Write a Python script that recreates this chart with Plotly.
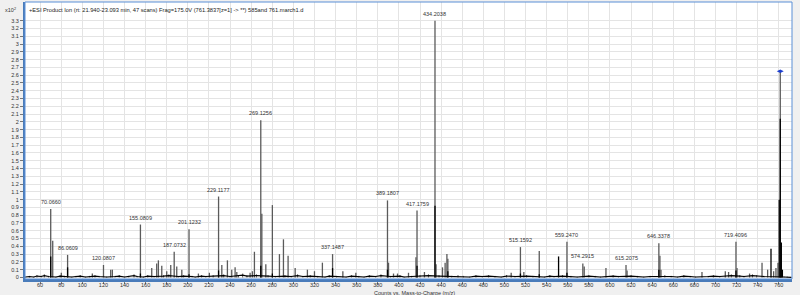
import plotly.graph_objects as go

# ---------------- data (intensity in counts x10^2) ----------------
gray_mz = [70.0660, 71.97, 80.1, 86.0609, 109.5, 120.0807, 126.9, 128.5, 155.0809, 165.8,
           170.5, 172.1, 175.3, 180.0, 183.8, 187.0732, 189.5, 194.3, 201.1232, 210.0,
           220.4, 229.1177, 232.2, 237.5, 241.6, 244.8, 246.4, 259.0, 261.2, 263.1,
           269.1256, 270.13, 273.9, 280.1, 286.8, 290.6, 295.0, 301.7, 313.3, 320.0,
           327.5, 337.1487, 346.9, 359.2, 389.1807, 390.18, 394.9, 398.7, 409.1, 416.17,
           417.1759, 424.2, 434.2038, 435.21, 441.3, 443.8, 445.5, 446.4, 506.4, 515.1592,
           518.4, 533.0, 559.2470, 574.2915, 575.6, 596.2, 615.2075, 616.2, 646.3378, 647.34,
           648.34, 687.2, 709.3, 712.4, 719.4096, 720.4, 732.3, 744.1, 749.4, 755.1,
           757.3, 759.2, 761.3837]
gray_int = [0.88, 0.47, 0.06, 0.29, 0.05, 0.16, 0.10, 0.10, 0.68, 0.12,
            0.18, 0.22, 0.15, 0.08, 0.16, 0.33, 0.14, 0.10, 0.62, 0.05,
            0.06, 1.04, 0.16, 0.22, 0.10, 0.13, 0.07, 0.06, 0.08, 0.33,
            2.02, 0.82, 0.17, 0.93, 0.30, 0.49, 0.28, 0.12, 0.10, 0.08,
            0.19, 0.30, 0.08, 0.06, 0.99, 0.19, 0.05, 0.05, 0.06, 0.26,
            0.86, 0.07, 3.30, 0.17, 0.13, 0.19, 0.30, 0.24, 0.06, 0.39,
            0.07, 0.34, 0.46, 0.18, 0.14, 0.12, 0.16, 0.09, 0.44, 0.28,
            0.10, 0.07, 0.08, 0.07, 0.46, 0.12, 0.05, 0.19, 0.10, 0.08,
            0.12, 0.19, 2.65]

black_mz = [70.07, 86.06, 155.08, 201.12, 229.12, 269.13, 280.1, 337.15, 389.18, 417.18,
            434.20, 446.4, 515.16, 533.0, 551.3, 559.25, 646.34, 719.41, 752.6, 760.38,
            761.38, 762.39, 763.39]
black_int = [0.27, 0.13, 0.05, 0.04, 0.09, 0.15, 0.05, 0.12, 0.10, 0.15,
             0.92, 0.08, 0.05, 0.04, 0.27, 0.06, 0.10, 0.09, 0.37, 1.00,
             2.04, 0.45, 0.10]

noise_mz = [46, 50, 54, 57, 61, 64, 68, 75, 79, 83, 90, 94, 98, 103, 107, 112, 116, 123,
            131, 135, 140, 144, 149, 152, 158, 162, 168, 177, 182, 191, 196, 204, 207, 213,
            217, 224, 234, 240, 248, 252, 256, 265, 276, 283, 292, 298, 304, 309, 316, 323,
            330, 334, 341, 350, 355, 362, 367, 372, 378, 383, 392, 401, 405, 412, 420, 428,
            438, 450, 456, 461, 467, 473, 479, 485, 491, 497, 502, 510, 521, 527, 538, 543,
            547, 555, 563, 569, 580, 586, 591, 603, 608, 620, 626, 632, 638, 652, 658, 664,
            670, 676, 681, 693, 698, 704, 715, 723, 727, 735, 739, 746, 765, 768, 772]
noise_int = [0.01, 0.02, 0.01, 0.03, 0.02, 0.04, 0.02, 0.01, 0.03, 0.02, 0.01, 0.02, 0.03, 0.01, 0.02, 0.03, 0.02, 0.01,
             0.02, 0.03, 0.01, 0.02, 0.04, 0.02, 0.01, 0.03, 0.02, 0.03, 0.04, 0.02, 0.03, 0.02, 0.01, 0.03,
             0.02, 0.03, 0.04, 0.02, 0.03, 0.05, 0.03, 0.04, 0.03, 0.02, 0.03, 0.02, 0.04, 0.02, 0.03, 0.02,
             0.01, 0.03, 0.02, 0.01, 0.03, 0.02, 0.01, 0.03, 0.02, 0.04, 0.02, 0.03, 0.01, 0.02, 0.03, 0.04,
             0.03, 0.02, 0.03, 0.02, 0.01, 0.03, 0.02, 0.03, 0.02, 0.01, 0.03, 0.02, 0.03, 0.02, 0.01, 0.03,
             0.02, 0.03, 0.02, 0.01, 0.03, 0.02, 0.01, 0.03, 0.02, 0.03, 0.02, 0.01, 0.02, 0.03, 0.02, 0.01,
             0.03, 0.02, 0.01, 0.02, 0.03, 0.02, 0.04, 0.03, 0.02, 0.04, 0.03, 0.02, 0.01, 0.01, 0.0]

label_mz = [70.0660, 86.0609, 120.0807, 155.0809, 187.0732, 201.1232, 229.1177, 269.1256,
            337.1487, 389.1807, 417.1759, 434.2038, 515.1592, 559.2470, 574.2915, 615.2075,
            646.3378, 719.4096]

precursor_mz = [761.3837]
precursor_int = [2.65]

x_ticks = list(range(60, 761, 20))
y_ticks = [round(i * 0.1, 1) for i in range(0, 34)]
y_ticktext = ["0" if v == 0 else ("%g" % v) for v in y_ticks]

title_text = "+ESI Product Ion (rt: 21.940-23.093 min, 47 scans) Frag=175.0V (761.3837[z=1] -> **) 585and 761.march1.d"
x_title = "Counts vs. Mass-to-Charge (m/z)"

# ---------------- helpers ----------------
def sticks(mzs, ints):
    xs, ys = [], []
    for m, v in zip(mzs, ints):
        xs += [m, m, None]
        ys += [0, v, None]
    return xs, ys

FONT = "Liberation Sans"
fig = go.Figure()

nx, ny = sticks(noise_mz, noise_int)
fig.add_trace(go.Scatter(x=nx, y=ny, mode="lines", line=dict(color="#555555", width=1),
                         hoverinfo="skip", showlegend=False))
gx, gy = sticks(gray_mz, gray_int)
fig.add_trace(go.Scatter(x=gx, y=gy, mode="lines", line=dict(color="#5a5a5a", width=1.3),
                         showlegend=False))
fig.add_trace(go.Scatter(x=noise_mz, y=[v * 0.6 for v in noise_int], mode="lines",
                         line=dict(color="#000000", width=1.2), hoverinfo="skip", showlegend=False))
bx, by = sticks(black_mz, black_int)
fig.add_trace(go.Scatter(x=bx, y=by, mode="lines", line=dict(color="#000000", width=1.3),
                         showlegend=False))
fig.add_trace(go.Scatter(x=precursor_mz, y=precursor_int, mode="markers",
                         marker=dict(symbol="diamond-wide", size=5, color="#1d3fd0"),
                         showlegend=False))

lookup = dict(zip(gray_mz, gray_int))
for m in label_mz:
    fig.add_annotation(x=m, y=lookup[m], text="%.4f" % m, showarrow=False,
                       xanchor="center", yanchor="bottom", yshift=2,
                       font=dict(family=FONT, size=5.5, color="#333333"))

fig.add_annotation(xref="paper", yref="paper", x=0.0026, y=0.972, text=title_text,
                   showarrow=False, xanchor="left", yanchor="middle",
                   font=dict(family=FONT, size=5.7, color="#222222"))
fig.add_annotation(xref="paper", yref="paper", x=-0.0195, y=0.972, text="x10<sup>2</sup>",
                   showarrow=False, xanchor="center", yanchor="middle",
                   font=dict(family=FONT, size=5.5, color="#333333"))
fig.add_annotation(xref="paper", yref="paper", x=0.508, y=-0.052, text=x_title,
                   showarrow=False, xanchor="center", yanchor="middle",
                   font=dict(family=FONT, size=5.5, color="#333333"))

# plot frame
fig.add_shape(type="rect", xref="paper", yref="paper", x0=0, y0=0, x1=1, y1=1,
              line=dict(color="#5b8fd6", width=1), layer="above")

fig.update_layout(
    width=800, height=295,
    margin=dict(l=25, r=8, t=2, b=16),
    paper_bgcolor="#f0f0f0", plot_bgcolor="#ffffff",
    font=dict(family=FONT, size=5.5, color="#333333"),
    xaxis=dict(range=[45.7, 772.5], tickmode="array", tickvals=x_ticks,
               showgrid=True, gridcolor="#e4e4e4", gridwidth=1, zeroline=False,
               showline=True, linecolor="#4a7cba", linewidth=3,
               ticks="outside", ticklen=2, tickcolor="#777777", ticklabelstandoff=-4,
               tickfont=dict(family=FONT, size=5.5, color="#333333")),
    yaxis=dict(range=[-0.02, 3.54], tickmode="array", tickvals=y_ticks, ticktext=y_ticktext,
               showgrid=True, gridcolor="#e4e4e4", gridwidth=1, zeroline=False,
               showline=True, linecolor="#4a7cba", linewidth=2,
               ticks="outside", ticklen=3, tickcolor="#777777",
               tickfont=dict(family=FONT, size=5.5, color="#333333")),
)

fig.write_html("out.html")
